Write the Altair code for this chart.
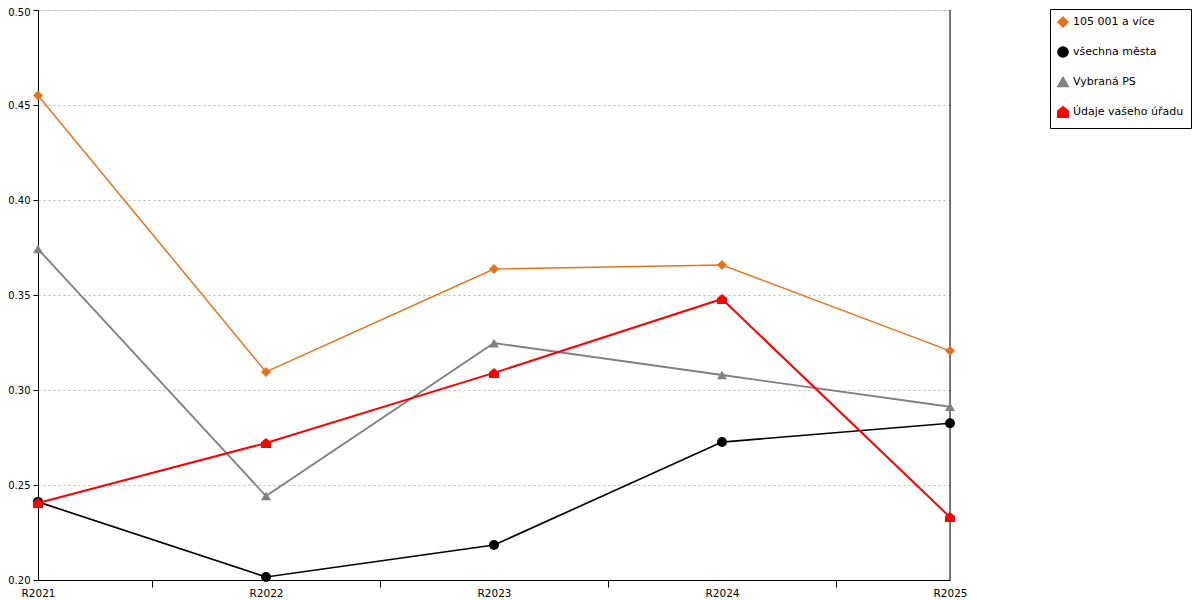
import altair as alt
import pandas as pd

years = ["R2021", "R2022", "R2023", "R2024", "R2025"]
series = ["105 001 a více", "všechna města", "Vybraná PS", "Údaje vašeho úřadu"]
s_orange = [0.455, 0.3095, 0.3637, 0.3658, 0.3206]
s_black = [0.2411, 0.2016, 0.2184, 0.2726, 0.2825]
s_gray = [0.3742, 0.2442, 0.3247, 0.3079, 0.2912]
s_red = [0.2405, 0.2721, 0.3090, 0.3479, 0.2331]

colors = ["#E6731B", "#000000", "#808080", "#FF0000"]
house = "M-1,1L1,1L1,-0.15L0,-1L-1,-0.15Z"
shapes = ["diamond", "circle", "triangle-up", house]
widths = [1.5, 2, 1.5, 1.5]
sizes = [100, 100, 120, 120]

rows = []
for name, vals in zip(series, [s_orange, s_black, s_gray, s_red]):
    for i, (y, v) in enumerate(zip(years, vals)):
        rows.append({"serie": name, "idx": i, "rok": y, "hodnota": v})
df = pd.DataFrame(rows)

font = "DejaVu Sans"
xs = alt.Scale(domain=[0, 4], nice=False, zero=False)
ys = alt.Scale(domain=[0.2, 0.5], nice=False, zero=False)
col = alt.Scale(domain=series, range=colors)
shp = alt.Scale(domain=series, range=shapes)

leg = alt.Legend(
    title=None, orient="none", legendX=1012, legendY=-1,
    labelFont=font, labelFontSize=11, labelColor="black",
    symbolSize=100, rowPadding=13, padding=7, strokeColor="black",
    fillColor="white", symbolStrokeWidth=0, labelLimit=300,
    symbolOpacity=1, labelOffset=4, symbolType="circle",
)

xaxis = alt.Axis(
    values=[0, 0.5, 1, 1.5, 2, 2.5, 3, 3.5, 4],
    labelExpr="datum.value % 1 == 0 ? ['R2021','R2022','R2023','R2024','R2025'][datum.value] : ''",
    grid=False, title=None, domainColor="black", labelColor="black",
    labelFont=font, labelFontSize=10.5, labelPadding=1, tickSize=7, tickOffset=0,
    tickColor={"condition": {"test": "datum.value % 1 == 0", "value": "transparent"}, "value": "black"},
    labelFlush=False, labelOverlap=False,
)
yaxis = alt.Axis(
    values=[0.2, 0.25, 0.3, 0.35, 0.4, 0.45, 0.5], format=".2f", title=None,
    grid=True, gridColor="#BBBBBB", gridDash=[2, 3], gridWidth=1,
    domainColor="black", tickColor="black", tickSize=5, labelColor="black",
    labelFont=font, labelFontSize=10, labelPadding=3,
    labelOffset={"condition": {"test": "datum.value == 0.5", "value": 2}, "value": 0},
)

base = alt.Chart(df)
lines = base.mark_line().encode(
    x=alt.X("idx:Q", scale=xs, axis=xaxis),
    y=alt.Y("hodnota:Q", scale=ys, axis=yaxis),
    color=alt.Color("serie:N", scale=col, sort=series, legend=leg),
    strokeWidth=alt.StrokeWidth("serie:N", scale=alt.Scale(domain=series, range=widths), legend=None),
    order=alt.Order("idx:Q"),
)
pts = base.mark_point(filled=True, opacity=1).encode(
    x=alt.X("idx:Q", scale=xs),
    y=alt.Y("hodnota:Q", scale=ys),
    color=alt.Color("serie:N", scale=col, sort=series, legend=leg),
    shape=alt.Shape("serie:N", scale=shp, sort=series, legend=leg),
    size=alt.Size("serie:N", scale=alt.Scale(domain=series, range=sizes), legend=None),
)
right = alt.Chart(pd.DataFrame({"a": [0]})).mark_rule(color="black", strokeWidth=1).encode(
    x=alt.datum(4), y=alt.datum(0.2), y2=alt.datum(0.5)
)

chart = alt.layer(lines, right, pts).properties(
    width=912, height=570,
    autosize=alt.AutoSizeParams(type="none"),
    padding={"left": 30, "top": 2, "right": 242, "bottom": 20},
).configure_view(stroke=None).configure(background="white")

chart.save("out.html", embed_options={"renderer": "svg", "actions": False})
